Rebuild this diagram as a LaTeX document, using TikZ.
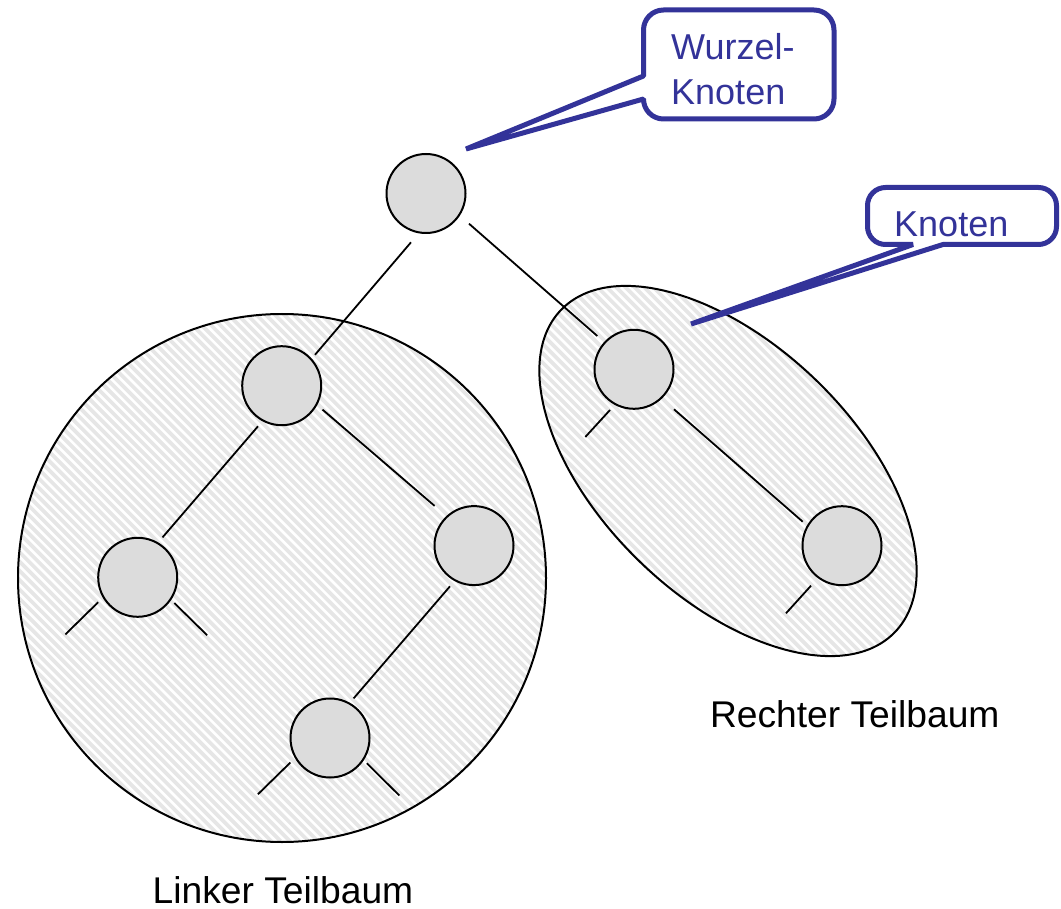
\documentclass[tikz,border=0pt]{standalone}
\usepackage{fontspec}
\setmainfont{Liberation Sans}
\usetikzlibrary{calc}
\definecolor{callblue}{RGB}{51,51,153}
\definecolor{hatchgray}{RGB}{230,230,230}
\definecolor{nodegray}{RGB}{220,220,220}
\begin{document}
\begin{tikzpicture}[x=1pt,y=-1pt,
  treenode/.style={circle,draw,line width=2pt,fill=nodegray,minimum size=79pt,inner sep=0pt},
  link/.style={line width=1.8pt},
  outline/.style={draw,line width=2pt},
  stripe/.style={white,line width=2.6pt},
  ellipsepos/.style={shift={(728,471)},rotate=-44},
  callout/.style={draw=callblue,line width=5pt,fill=white,line join=bevel},
  calltext/.style={text=callblue,font=\fontsize{36}{45}\selectfont,anchor=base west,inner sep=0pt},
  captiontext/.style={font=\fontsize{37.2}{45}\selectfont,anchor=base west,inner sep=0pt}]
\useasboundingbox (0,0) rectangle (1061,909);

% left subtree region
\begin{scope}
  \clip (282,578) circle[radius=264];
  \fill[hatchgray] (0,300) rectangle (560,860);
  \foreach \i in {-600,-590.7,...,560} \draw[stripe] (\i,300) -- ++(580,580);
\end{scope}
\path[outline] (282,578) circle[radius=264];

% right subtree region
\begin{scope}
  \clip[ellipsepos] (0,0) ellipse[x radius=232,y radius=126.5];
  \fill[hatchgray] (520,270) rectangle (940,670);
  \foreach \i in {120,129.3,...,940} \draw[stripe] (\i,270) -- ++(420,420);
\end{scope}
\path[outline,ellipsepos] (0,0) ellipse[x radius=232,y radius=126.5];

% nodes
\node[treenode] (R)   at (426,193.5) {};
\node[treenode] (L)   at (281.7,385.7) {};
\node[treenode] (LL)  at (137.7,577.3) {};
\node[treenode] (LR)  at (474,545.6) {};
\node[treenode] (LRL) at (330,738) {};
\node[treenode] (Rt)  at (634,369.3) {};
\node[treenode] (RR)  at (842,545.7) {};

% edges
\draw[link] ($(R)+(-15,48.8)$) -- ($(L)+(33.3,-30.9)$);
\draw[link] ($(R)+(43,30.2)$) -- ($(Rt)+(-36.7,-33.3)$);
\draw[link] ($(L)+(-23.7,40.6)$) -- ($(LL)+(24.8,-39.9)$);
\draw[link] ($(L)+(40.8,23.9)$) -- ($(LR)+(-39.4,-39.7)$);
\draw[link] ($(LR)+(-24,40.7)$) -- ($(LRL)+(23.6,-39.6)$);
\draw[link] ($(Rt)+(40,40)$) -- ($(RR)+(-39.3,-24)$);

% stubs
\draw[link] ($(LL)+(-39.5,24.9)$) -- ++(-32.8,32.2);
\draw[link] ($(LL)+(36.6,25.7)$) -- ++(32.8,32.2);
\draw[link] ($(LRL)+(-39.6,24.5)$) -- ++(-32.5,31.8);
\draw[link] ($(LRL)+(36.8,25.2)$) -- ++(32.5,32.3);
\draw[link] ($(Rt)+(-24,40.7)$) -- ++(-24.7,27);
\draw[link] ($(RR)+(-31,40)$) -- ++(-25,27.6);

% callouts
\coordinate (tipW) at (466,149);
\coordinate (tipK) at (691,324);
\draw[callout] (643.5,76) -- (643.5,30) arc[start angle=180,end angle=270,radius=20]
  -- (814,10) arc[start angle=270,end angle=360,radius=20]
  -- (834,99) arc[start angle=0,end angle=90,radius=20]
  -- (663.5,119) arc[start angle=90,end angle=180,radius=20]
  -- (tipW) -- cycle;
\draw[callout] (943,244.5) -- (1038.5,244.5) arc[start angle=90,end angle=0,radius=18]
  -- (1056.5,205.5) arc[start angle=0,end angle=-90,radius=18]
  -- (885.5,187.5) arc[start angle=270,end angle=180,radius=18]
  -- (867.5,226.5) arc[start angle=180,end angle=90,radius=18]
  -- (913,244.5) -- (tipK) -- cycle;

\node[calltext] (wurzelA) at (671,60) {Wurzel-};
\node[calltext] (wurzelB) at (671,105) {Knoten};
\node[calltext] (knoten) at (894,236.7) {Knoten};

% captions
\node[captiontext] (linker) at (152.5,903.3) {Linker Teilbaum};
\node[captiontext] (rechter) at (709.8,727.3) {Rechter Teilbaum};
\end{tikzpicture}
\end{document}
